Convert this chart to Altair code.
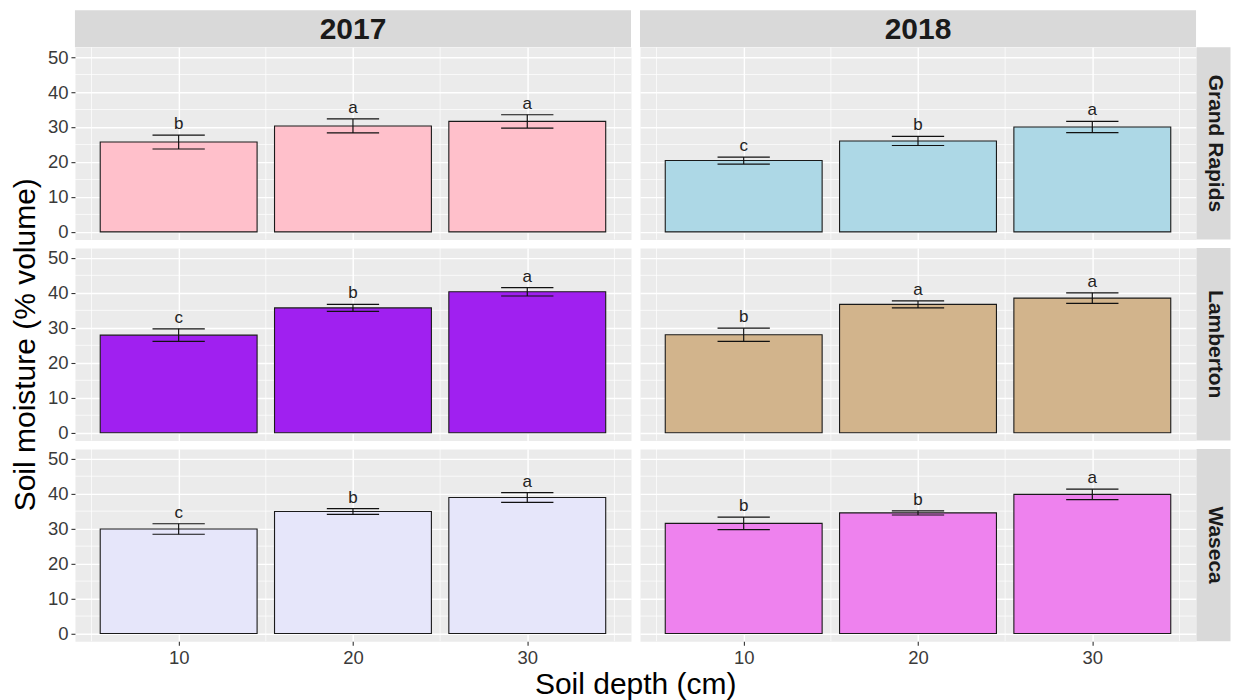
import altair as alt
import pandas as pd

# ---- values ---------------------------------------------------------------
years = ["2017", "2018"]
sites = ["Grand Rapids", "Lamberton", "Waseca"]
depths = [10, 20, 30]

# mean soil moisture (% volume) per depth, standard error and mean-separation letters
gr17_mean = [25.7, 30.3, 31.6]
gr17_se = [2.0, 2.0, 1.9]
gr17_group = ["b", "a", "a"]

gr18_mean = [20.4, 26.0, 30.0]
gr18_se = [1.0, 1.3, 1.6]
gr18_group = ["c", "b", "a"]

lam17_mean = [27.9, 35.7, 40.3]
lam17_se = [1.8, 1.0, 1.2]
lam17_group = ["c", "b", "a"]

lam18_mean = [28.0, 36.7, 38.5]
lam18_se = [1.9, 1.0, 1.5]
lam18_group = ["b", "a", "a"]

was17_mean = [29.9, 34.9, 38.9]
was17_se = [1.5, 0.8, 1.4]
was17_group = ["c", "b", "a"]

was18_mean = [31.5, 34.5, 39.8]
was18_se = [1.8, 0.6, 1.5]
was18_group = ["b", "b", "a"]

fills = {
    ("2017", "Grand Rapids"): "#FFC0CB",
    ("2018", "Grand Rapids"): "#ADD8E6",
    ("2017", "Lamberton"): "#A020F0",
    ("2018", "Lamberton"): "#D2B48C",
    ("2017", "Waseca"): "#E6E6FA",
    ("2018", "Waseca"): "#EE82EE",
}

series = {
    ("2017", "Grand Rapids"): (gr17_mean, gr17_se, gr17_group),
    ("2018", "Grand Rapids"): (gr18_mean, gr18_se, gr18_group),
    ("2017", "Lamberton"): (lam17_mean, lam17_se, lam17_group),
    ("2018", "Lamberton"): (lam18_mean, lam18_se, lam18_group),
    ("2017", "Waseca"): (was17_mean, was17_se, was17_group),
    ("2018", "Waseca"): (was18_mean, was18_se, was18_group),
}

x_major = [10, 20, 30]
x_minor = [5, 15, 25, 35]
y_major = [0, 10, 20, 30, 40, 50]
y_minor = [5, 15, 25, 35, 45]

# ---- layout / style ---------------------------------------------------------
FONT = "Liberation Sans"
PANEL_W = 556.5
PANEL_H = 192.5
COL_GAP = 8.5
ROW_GAP = 8
STRIP_TOP_H = 37          # visible height of the year strips
STRIP_RIGHT_W = 34        # visible width of the site strips
STRIP_FILL = "#D9D9D9"
PANEL_FILL = "#EBEBEB"
BAR_HALF = 4.5            # bars are 9 depth units wide
CAP_HALF = 1.5            # error-bar caps are 3 depth units wide
TICK_FONT = 18.5
TITLE_FONT = 30

x_scale = alt.Scale(domain=[4.05, 35.95], nice=False, zero=False)
y_scale = alt.Scale(domain=[-2.2, 52.8], nice=False, zero=False)


def make_table(year, site):
    mean, se, group = series[(year, site)]
    df = pd.DataFrame({"depth": depths, "mean": mean, "se": se, "group": group})
    df["lo"] = df["mean"] - df["se"]
    df["hi"] = df["mean"] + df["se"]
    df["left"] = df["depth"] - BAR_HALF
    df["right"] = df["depth"] + BAR_HALF
    df["cap_l"] = df["depth"] - CAP_HALF
    df["cap_r"] = df["depth"] + CAP_HALF
    return df


def panel(year, site, show_x, show_y, y_title, x_title):
    df = make_table(year, site)
    x_axis = alt.Axis(
        values=x_major, grid=True, labels=show_x, ticks=show_x, domain=False,
        title=x_title, labelFontSize=TICK_FONT, labelColor="#3A3A3A", labelPadding=3,
        tickColor="#333333", tickSize=4, tickWidth=1.1,
        gridColor="white", gridWidth=1.4,
        titleFontSize=TITLE_FONT, titleFontWeight="normal", titleColor="#000000",
        titleX=PANEL_W + COL_GAP / 2, titleAlign="center", titlePadding=3,
    )
    y_axis = alt.Axis(
        values=y_major, grid=True, labels=show_y, ticks=show_y, domain=False,
        title=y_title, labelFontSize=TICK_FONT, labelColor="#3A3A3A", labelPadding=3,
        tickColor="#333333", tickSize=4, tickWidth=1.1,
        gridColor="white", gridWidth=1.4,
        titleFontSize=TITLE_FONT, titleFontWeight="normal", titleColor="#000000",
        titlePadding=7,
    )
    xq = lambda f: alt.X(f, type="quantitative", scale=x_scale, axis=x_axis)
    yq = lambda f: alt.Y(f, type="quantitative", scale=y_scale, axis=y_axis)

    minor_x = alt.Chart(pd.DataFrame({"depth": x_minor})).mark_rule(
        color="white", strokeWidth=0.7
    ).encode(x=xq("depth"))
    minor_y = alt.Chart(pd.DataFrame({"mean": y_minor})).mark_rule(
        color="white", strokeWidth=0.7
    ).encode(y=yq("mean"))

    base = alt.Chart(df)
    bars = base.mark_bar(
        color=fills[(year, site)], stroke="#1a1a1a", strokeWidth=1.1
    ).encode(x=xq("left"), x2="right:Q", y=yq("mean"), y2=alt.datum(0))
    stems = base.mark_rule(color="#111111", strokeWidth=1.2).encode(
        x=xq("depth"), y=yq("lo"), y2="hi:Q"
    )
    caps_lo = base.mark_rule(color="#111111", strokeWidth=1.2).encode(
        x=xq("cap_l"), x2="cap_r:Q", y=yq("lo")
    )
    caps_hi = base.mark_rule(color="#111111", strokeWidth=1.2).encode(
        x=xq("cap_l"), x2="cap_r:Q", y=yq("hi")
    )
    letters = base.mark_text(
        fontSize=17, color="#222222", baseline="alphabetic", dy=-6, font=FONT
    ).encode(x=xq("depth"), y=yq("hi"), text="group:N")

    return alt.layer(minor_x, minor_y, bars, stems, caps_lo, caps_hi, letters).properties(
        width=PANEL_W, height=PANEL_H,
        view=alt.ViewBackground(fill=PANEL_FILL, stroke="transparent"),
    )


def top_strip(label):
    # the strip band runs on through the row gap so it sits flush on the panel below
    h = STRIP_TOP_H - ROW_GAP
    src = alt.Chart(pd.DataFrame({"label": [label]}))
    band = src.mark_rect(color=STRIP_FILL).encode(
        x=alt.value(0), x2=alt.value(PANEL_W), y=alt.value(0), y2=alt.value(STRIP_TOP_H)
    )
    text = src.mark_text(
        fontSize=30, fontWeight="bold", color="#1A1A1A", font=FONT,
        align="center", baseline="middle",
    ).encode(x=alt.value(PANEL_W / 2), y=alt.value(STRIP_TOP_H / 2 + 1), text="label:N")
    return alt.layer(band, text).properties(width=PANEL_W, height=h)


def side_strip(label):
    # the strip band reaches back over the column gap so it touches the panel
    w = STRIP_RIGHT_W - COL_GAP
    src = alt.Chart(pd.DataFrame({"label": [label]}))
    band = src.mark_rect(color=STRIP_FILL).encode(
        x=alt.value(-COL_GAP), x2=alt.value(w), y=alt.value(0), y2=alt.value(PANEL_H)
    )
    text = src.mark_text(
        fontSize=21, fontWeight="bold", color="#1A1A1A", font=FONT,
        angle=90, align="center", baseline="middle",
    ).encode(x=alt.value((w - COL_GAP) / 2 + 1), y=alt.value(PANEL_H / 2), text="label:N")
    return alt.layer(band, text).properties(width=w, height=PANEL_H)


def blank(w, h):
    return alt.Chart(pd.DataFrame({"label": [""]})).mark_text().encode(
        text="label:N"
    ).properties(width=w, height=h)


cells = [top_strip(years[0]), top_strip(years[1]),
         blank(STRIP_RIGHT_W - COL_GAP, STRIP_TOP_H - ROW_GAP)]
for i, site in enumerate(sites):
    bottom = i == len(sites) - 1
    cells.append(panel("2017", site, bottom, True,
                       "Soil moisture (% volume)" if i == 1 else None,
                       "Soil depth (cm)" if bottom else None))
    cells.append(panel("2018", site, bottom, False, None, None))
    cells.append(side_strip(site))

chart = alt.concat(
    *cells, columns=3, spacing={"row": ROW_GAP, "column": COL_GAP}, bounds="flush"
).properties(
    padding={"left": 9, "top": 9, "right": 2, "bottom": 4},
    background="white",
).configure(font=FONT).configure_view(stroke="transparent")

chart.save("out.html", embed_options={"renderer": "svg", "actions": False})
